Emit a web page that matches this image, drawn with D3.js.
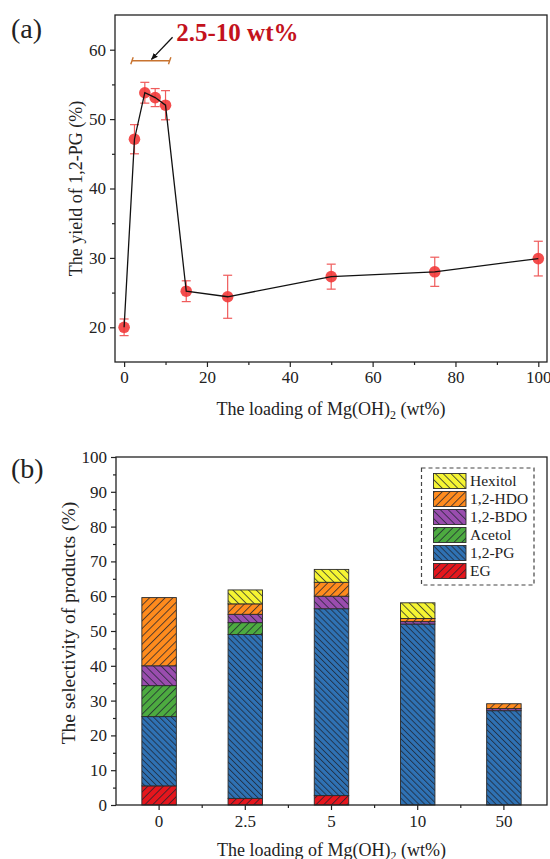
<!DOCTYPE html>
<html>
<head>
<meta charset="utf-8">
<script src="https://cdn.jsdelivr.net/npm/d3@7/dist/d3.min.js"></script>
<style>
  html, body { margin: 0; padding: 0; background: #fff; }
  svg { display: block; }
  text { font-family: "Liberation Serif", "Times New Roman", serif; fill: #222; }
</style>
</head>
<body>
<svg id="chart" width="550" height="859"></svg>
<script>
// ---------- Data: panel (a) ----------
const loading = [0, 2.5, 5, 7.5, 10, 15, 25, 50, 75, 100];
const yieldPG = [20.0, 47.1, 53.8, 53.1, 52.0, 25.2, 24.4, 27.3, 28.0, 29.9];
const yieldErr = [1.2, 2.1, 1.5, 1.3, 2.1, 1.5, 3.1, 1.8, 2.1, 2.5];
const xTicksA = [0, 20, 40, 60, 80, 100];
const yTicksA = [20, 30, 40, 50, 60];
const rangeBracket = [1.9, 11.0];   // data x span of bracket
const bracketY = 58.4;
const annoText = "2.5-10 wt%";

// ---------- Data: panel (b) ----------
const categories = ["0", "2.5", "5", "10", "50"];
const EG      = [5.5, 1.9, 2.7, 0.0, 0.0];
const PG      = [19.9, 47.1, 53.7, 52.0, 27.1];
const Acetol  = [8.9, 3.4, 0.0, 0.0, 0.0];
const BDO     = [5.7, 2.4, 3.6, 0.7, 0.6];
const HDO     = [19.6, 3.0, 4.0, 0.9, 1.4];
const Hexitol = [0.0, 4.0, 3.7, 4.5, 0.0];
const seriesNames = ["EG", "1,2-PG", "Acetol", "1,2-BDO", "1,2-HDO", "Hexitol"];
const yTicksB = [0, 10, 20, 30, 40, 50, 60, 70, 80, 90, 100];

const svg = d3.select("#chart");

// ================= Panel (a) =================
const A = { left: 115, right: 547, top: 15, bottom: 362 };
const xA = d3.scaleLinear().domain([-2.2, 102.1]).range([A.left, A.right]);
const yA = d3.scaleLinear().domain([15, 65]).range([A.bottom, A.top]);
const gA = svg.append("g");

// x axis
const axA = gA.append("g").attr("transform", `translate(0,${A.bottom})`)
  .call(d3.axisBottom(xA).tickValues(xTicksA).tickSize(5).tickSizeOuter(0).tickPadding(4).tickFormat(d3.format("d")));
axA.select(".domain").remove();
axA.selectAll("text").style("font-size", "17px").style("font-family", "Liberation Serif").attr("fill", "#222");
axA.selectAll("line").attr("stroke", "#222").attr("stroke-width", 1.2);
gA.append("g").attr("transform", `translate(0,${A.bottom})`)
  .call(d3.axisBottom(xA).tickValues([10, 30, 50, 70, 90]).tickSize(3).tickFormat(""))
  .call(g => { g.select(".domain").remove(); g.selectAll("line").attr("stroke", "#222").attr("stroke-width", 1.2); });

// y axis
const ayA = gA.append("g").attr("transform", `translate(${A.left},0)`)
  .call(d3.axisLeft(yA).tickValues(yTicksA).tickSize(5).tickSizeOuter(0).tickPadding(4));
ayA.select(".domain").remove();
ayA.selectAll("text").style("font-size", "17px").style("font-family", "Liberation Serif").attr("fill", "#222");
ayA.selectAll("line").attr("stroke", "#222").attr("stroke-width", 1.2);
gA.append("g").attr("transform", `translate(${A.left},0)`)
  .call(d3.axisLeft(yA).tickValues([25, 35, 45, 55]).tickSize(3).tickFormat(""))
  .call(g => { g.select(".domain").remove(); g.selectAll("line").attr("stroke", "#222").attr("stroke-width", 1.2); });

// frame
gA.append("rect").attr("x", A.left).attr("y", A.top)
  .attr("width", A.right - A.left).attr("height", A.bottom - A.top)
  .attr("fill", "none").attr("stroke", "#222").attr("stroke-width", 1.3);

// titles
const xtA = gA.append("text").attr("x", (A.left + A.right) / 2).attr("y", 415)
  .attr("text-anchor", "middle").style("font-size", "18px");
xtA.append("tspan").text("The loading of Mg(OH)");
xtA.append("tspan").text("2").attr("dy", 4).style("font-size", "12px");
xtA.append("tspan").text(" (wt%)").attr("dy", -4);

gA.append("text").attr("transform", `translate(82,${(A.top + A.bottom) / 2}) rotate(-90)`)
  .attr("text-anchor", "middle").style("font-size", "18px").text("The yield of 1,2-PG (%)");

gA.append("text").attr("x", 11).attr("y", 38).style("font-size", "28px").text("(a)");

// error bars
const pts = loading.map((x, i) => ({ x, y: yieldPG[i], e: yieldErr[i] }));
const errG = gA.append("g").attr("stroke", "#ef5b5b").attr("stroke-width", 1.2);
pts.forEach(p => {
  const cx = xA(p.x);
  errG.append("line").attr("x1", cx).attr("x2", cx).attr("y1", yA(p.y - p.e)).attr("y2", yA(p.y + p.e));
  [p.y - p.e, p.y + p.e].forEach(v => {
    errG.append("line").attr("x1", cx - 4.5).attr("x2", cx + 4.5).attr("y1", yA(v)).attr("y2", yA(v));
  });
});

// markers
gA.append("g").selectAll("circle").data(pts).join("circle")
  .attr("cx", d => xA(d.x)).attr("cy", d => yA(d.y)).attr("r", 5.8)
  .attr("fill", "#f23a3a").attr("fill-opacity", 0.9);

// line
gA.append("path").datum(pts)
  .attr("d", d3.line().x(d => xA(d.x)).y(d => yA(d.y)))
  .attr("fill", "none").attr("stroke", "#111").attr("stroke-width", 1.3);

// bracket annotation
const bc = "#c8732f";
const bx0 = xA(rangeBracket[0]), bx1 = xA(rangeBracket[1]), by = yA(bracketY);
gA.append("line").attr("x1", bx0).attr("x2", bx1).attr("y1", by).attr("y2", by)
  .attr("stroke", bc).attr("stroke-width", 1.6);
[bx0, bx1].forEach(bx => {
  gA.append("line").attr("x1", bx + 1.2).attr("x2", bx - 1.2).attr("y1", by - 3.5).attr("y2", by + 3.5)
    .attr("stroke", bc).attr("stroke-width", 1.4);
});

// arrow
const defs = svg.append("defs");
defs.append("marker").attr("id", "arrowhead").attr("viewBox", "0 0 10 10")
  .attr("refX", 9).attr("refY", 5).attr("markerWidth", 7).attr("markerHeight", 7)
  .attr("markerUnits", "userSpaceOnUse").attr("orient", "auto")
  .append("path").attr("d", "M0,1 L10,5 L0,9 Z").attr("fill", "#111");
gA.append("line")
  .attr("x1", xA(11.7)).attr("y1", yA(61.8))
  .attr("x2", xA(6.6)).attr("y2", yA(bracketY + 0.2))
  .attr("stroke", "#111").attr("stroke-width", 1.3).attr("marker-end", "url(#arrowhead)");

gA.append("text").attr("x", xA(12.6)).attr("y", yA(61.2))
  .style("font-size", "25px").style("font-weight", "bold").attr("fill", "#c3121c").style("fill", "#c3121c")
  .text(annoText);

// ================= Panel (b) =================
const B = { left: 116, right: 547, top: 457, bottom: 805 };
const xB = d3.scaleBand().domain(categories).range([B.left, B.right]).paddingInner(0.6).paddingOuter(0.3);
const yB = d3.scaleLinear().domain([0, 100]).range([B.bottom, B.top]);
const gB = svg.append("g");

const colors = ["#e5161d", "#2f72b4", "#4dab40", "#9a4dae", "#ff8b1d", "#f6f532"];
const hatchDir = [45, -45, 45, -45, 45, -45];
const hatchGap = [5.5, 4.2, 5.5, 5.5, 5.5, 5.5];
seriesNames.forEach((n, i) => {
  const p = defs.append("pattern").attr("id", "hatch" + i)
    .attr("patternUnits", "userSpaceOnUse").attr("width", hatchGap[i]).attr("height", hatchGap[i])
    .attr("patternTransform", `rotate(${hatchDir[i]})`);
  p.append("rect").attr("width", hatchGap[i]).attr("height", hatchGap[i]).attr("fill", colors[i]);
  p.append("line").attr("x1", 0.5).attr("x2", 0.5).attr("y1", 0).attr("y2", hatchGap[i])
    .attr("stroke", "#1d2430").attr("stroke-width", 0.75);
});

// axes
const axB = gB.append("g").attr("transform", `translate(0,${B.bottom})`)
  .call(d3.axisBottom(xB).tickSize(5).tickSizeOuter(0).tickPadding(5));
axB.select(".domain").remove();
axB.selectAll("text").style("font-size", "17px").style("font-family", "Liberation Serif").attr("fill", "#222");
axB.selectAll("line").attr("stroke", "#222").attr("stroke-width", 1.2);
const minorB = categories.slice(0, -1).map(c => xB(c) + xB.bandwidth() / 2 + xB.step() / 2);
gB.append("g").selectAll("line").data(minorB).join("line")
  .attr("x1", d => d).attr("x2", d => d).attr("y1", B.bottom).attr("y2", B.bottom + 3)
  .attr("stroke", "#222").attr("stroke-width", 1.2);

const ayB = gB.append("g").attr("transform", `translate(${B.left},0)`)
  .call(d3.axisLeft(yB).tickValues(yTicksB).tickSize(5).tickSizeOuter(0).tickPadding(4));
ayB.select(".domain").remove();
ayB.selectAll("text").style("font-size", "17px").style("font-family", "Liberation Serif").attr("fill", "#222");
ayB.selectAll("line").attr("stroke", "#222").attr("stroke-width", 1.2);
gB.append("g").attr("transform", `translate(${B.left},0)`)
  .call(d3.axisLeft(yB).tickValues(d3.range(5, 100, 10)).tickSize(3).tickFormat(""))
  .call(g => { g.select(".domain").remove(); g.selectAll("line").attr("stroke", "#222").attr("stroke-width", 1.2); });

// stacked bars
const rows = categories.map((c, i) => ({
  cat: c, "EG": EG[i], "1,2-PG": PG[i], "Acetol": Acetol[i],
  "1,2-BDO": BDO[i], "1,2-HDO": HDO[i], "Hexitol": Hexitol[i]
}));
const stack = d3.stack().keys(seriesNames)(rows);
stack.forEach((layer, i) => {
  gB.append("g").selectAll("rect").data(layer.filter(d => d[1] - d[0] > 0)).join("rect")
    .attr("x", d => xB(d.data.cat)).attr("width", xB.bandwidth())
    .attr("y", d => yB(d[1])).attr("height", d => yB(d[0]) - yB(d[1]))
    .attr("fill", `url(#hatch${i})`).attr("stroke", "#2a2a2a").attr("stroke-width", 0.9);
});

// frame
gB.append("rect").attr("x", B.left).attr("y", B.top)
  .attr("width", B.right - B.left).attr("height", B.bottom - B.top)
  .attr("fill", "none").attr("stroke", "#222").attr("stroke-width", 1.3);

// titles
const xtB = gB.append("text").attr("x", (B.left + B.right) / 2).attr("y", 856)
  .attr("text-anchor", "middle").style("font-size", "18px");
xtB.append("tspan").text("The loading of Mg(OH)");
xtB.append("tspan").text("2").attr("dy", 4).style("font-size", "12px");
xtB.append("tspan").text(" (wt%)").attr("dy", -4);

gB.append("text").attr("transform", `translate(75,623) rotate(-90)`)
  .attr("text-anchor", "middle").style("font-size", "19.5px").text("The selectivity of products (%)");

gB.append("text").attr("x", 11).attr("y", 478).style("font-size", "28px").text("(b)");

// legend
const L = { x: 421.5, y: 468, w: 112.5, h: 117 };
gB.append("rect").attr("x", L.x).attr("y", L.y).attr("width", L.w).attr("height", L.h)
  .attr("fill", "#fff").attr("stroke", "#444").attr("stroke-width", 1.2).attr("stroke-dasharray", "4,3");
const legOrder = seriesNames.map((n, i) => i).reverse();
legOrder.forEach((si, r) => {
  const cy = 481 + r * 18;
  gB.append("rect").attr("x", 433.5).attr("y", cy - 7.5).attr("width", 32.5).attr("height", 15)
    .attr("fill", `url(#hatch${si})`).attr("stroke", "#2a2a2a").attr("stroke-width", 0.9);
  gB.append("text").attr("x", 470).attr("y", cy + 5.3).style("font-size", "15.5px").text(seriesNames[si]);
});
</script>
</body>
</html>
